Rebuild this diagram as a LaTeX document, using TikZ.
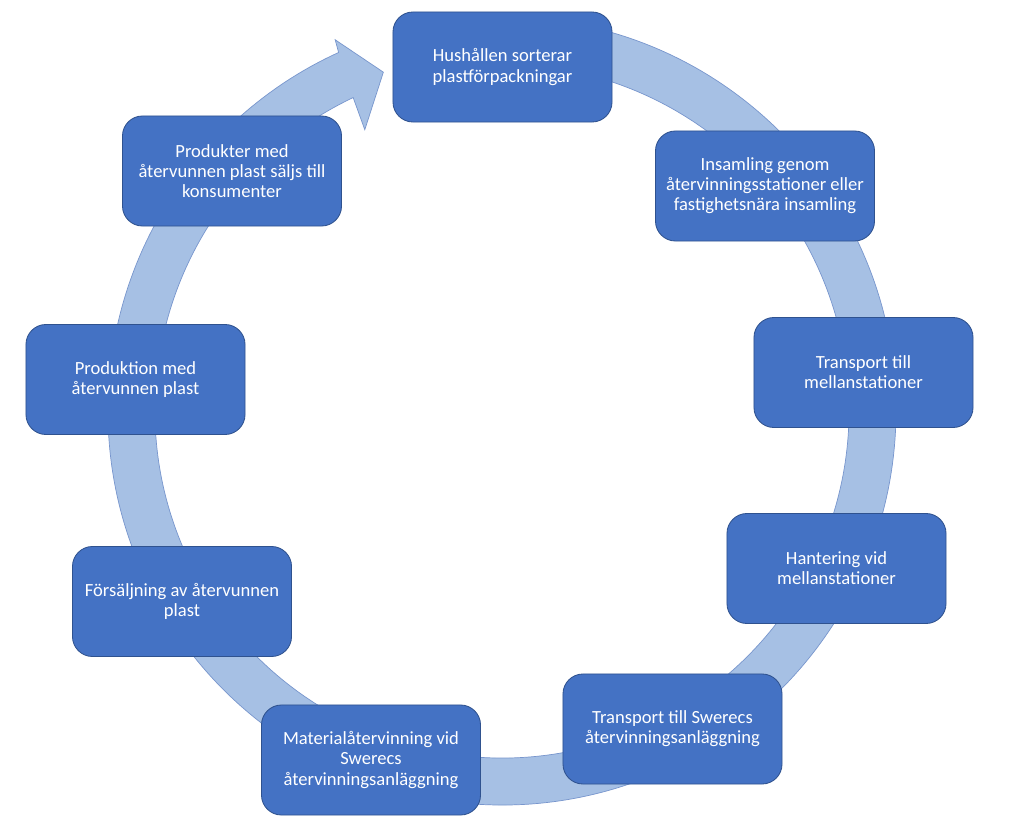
\documentclass[tikz,border=0pt]{standalone}
\usepackage{fontspec}
\setmainfont{Carlito}

\definecolor{boxblue}{RGB}{68,114,196}
\definecolor{boxline}{RGB}{47,82,143}
\definecolor{ringblue}{RGB}{166,192,228}
\definecolor{ringline}{RGB}{120,150,205}

\begin{document}
\begin{tikzpicture}[x=0.025cm, y=0.025cm,
  stage/.style={draw=boxline, fill=boxblue, line width=0.6pt,
    rounded corners=0.5cm, minimum width=5.475cm, minimum height=2.75cm,
    align=center, text=white, font=\fontsize{13.2}{14.3}\selectfont}]

  \fill[white] (0,0) rectangle (1024,825);
  \useasboundingbox (0,0) rectangle (1024,825);

  \def\rout{394}
  \def\rin{347}

  % ring with arrow head
  \begin{scope}[shift={(502,414)}]
    \filldraw[fill=ringblue, draw=ringline, line width=0.5pt]
      (85:\rout) arc[start angle=85, end angle=-245.5, radius=\rout]
      -- (-245.8:407) -- (-250.7:359) -- (-244:313) -- (-244.6:\rin)
      arc[start angle=-244.6, end angle=85, radius=\rin] -- cycle;
  \end{scope}

  % stages
  \node[stage] (hushall)     at (502.5,758) {Hushållen sorterar\\plastförpackningar};
  \node[stage] (insamling)   at (765,639)   {Insamling genom\\återvinningsstationer eller\\fastighetsnära insamling};
  \node[stage] (transport)   at (863.5,452.5) {Transport till\\mellanstationer};
  \node[stage] (hantering)   at (836.5,256.5) {Hantering vid\\mellanstationer};
  \node[stage] (swerecs)     at (672.5,96)  {Transport till Swerecs\\återvinningsanläggning};
  \node[stage] (material)    at (371,65)    {Materialåtervinning vid\\Swerecs\\återvinningsanläggning};
  \node[stage] (forsaljning) at (182,223.5) {Försäljning av återvunnen\\plast};
  \node[stage] (produktion)  at (135.5,445.5) {Produktion med\\återvunnen plast};
  \node[stage] (produkter)   at (232,654)   {Produkter med\\återvunnen plast säljs till\\konsumenter};

\end{tikzpicture}
\end{document}
